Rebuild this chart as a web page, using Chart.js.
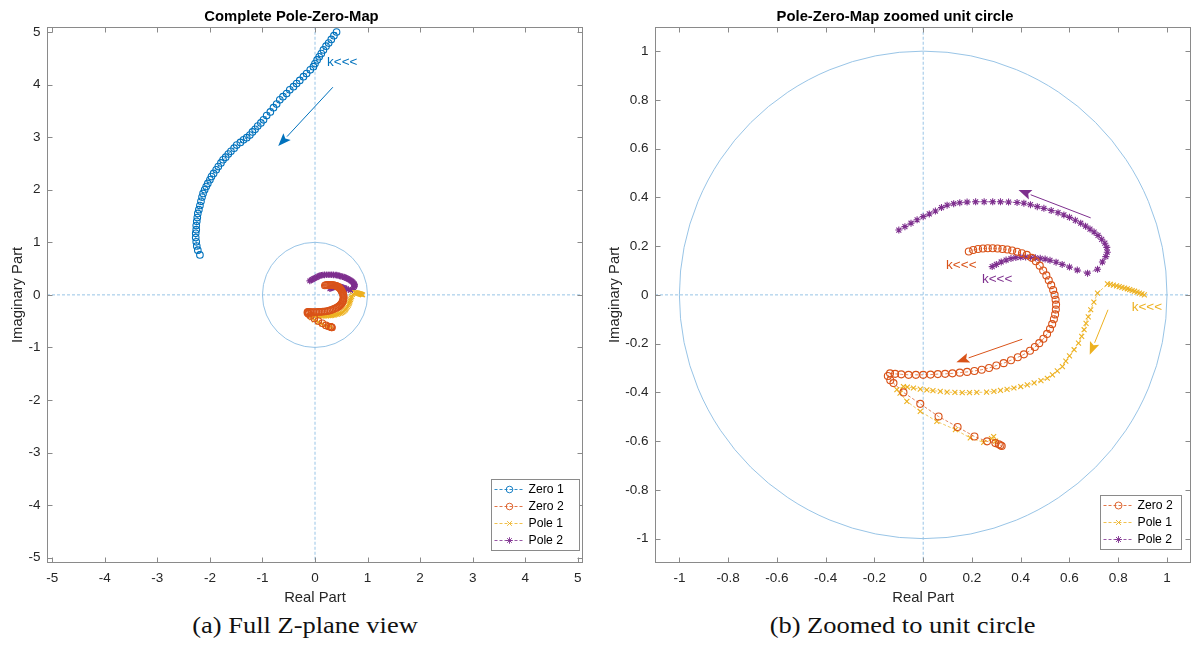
<!DOCTYPE html>
<html>
<head>
<meta charset="utf-8">
<script src="https://cdn.jsdelivr.net/npm/chart.js@4.4.1/dist/chart.umd.min.js"></script>
<style>
  body { margin: 0; background: #fff; width: 1196px; height: 655px; overflow: hidden; position: relative; }
  canvas { position: absolute; top: 0; }
  #full { left: 0; }
  #unit { left: 598px; }
  .cap { position: absolute; top: 613px; text-align: center; font-family: "Liberation Serif", "DejaVu Serif", serif; font-size: 23px; color: #111; white-space: nowrap; }
  .cap span { display: inline-block; transform: scaleX(1.15); }
</style>
</head>
<body>
<canvas id="full" width="598" height="608"></canvas>
<canvas id="unit" width="598" height="608"></canvas>
<div class="cap" style="left:0;width:610px;"><span>(a) Full Z-plane view</span></div>
<div class="cap" style="left:596px;width:614px;"><span>(b) Zoomed to unit circle</span></div>
<script>
const BLUE = '#0072BD', ORANGE = '#D95319', YELLOW = '#EDB120', PURPLE = '#7E2F8E';
const REF = '#8cbde3';
const AXIS = '#8a8a8a';

// tick positions
const fullTicks = [-5, -4, -3, -2, -1, 0, 1, 2, 3, 4, 5];
const unitTicks = [-1, -0.8, -0.6, -0.4, -0.2, 0, 0.2, 0.4, 0.6, 0.8, 1];

// root locus traces [re, im]
const zero1 = [
  [0.41, 5.0], [0.36, 4.93], [0.31, 4.86], [0.26, 4.79], [0.21, 4.73], [0.16, 4.66],
  [0.12, 4.59], [0.08, 4.53], [0.04, 4.47], [0.0, 4.40], [-0.03, 4.34],
  [-0.09, 4.28], [-0.16, 4.21], [-0.22, 4.15], [-0.29, 4.08], [-0.35, 4.02],
  [-0.41, 3.96], [-0.48, 3.90], [-0.54, 3.83], [-0.61, 3.77], [-0.67, 3.71],
  [-0.73, 3.63], [-0.79, 3.56], [-0.85, 3.48], [-0.92, 3.41], [-0.98, 3.33],
  [-1.03, 3.27], [-1.09, 3.21], [-1.14, 3.15], [-1.19, 3.10], [-1.24, 3.04],
  [-1.30, 2.99], [-1.36, 2.95], [-1.42, 2.90], [-1.49, 2.85],
  [-1.54, 2.79], [-1.60, 2.73], [-1.65, 2.68], [-1.70, 2.62], [-1.75, 2.57],
  [-1.79, 2.51], [-1.84, 2.44], [-1.88, 2.38], [-1.93, 2.31], [-1.97, 2.25],
  [-2.00, 2.19], [-2.04, 2.12], [-2.07, 2.06], [-2.10, 2.00], [-2.13, 1.93],
  [-2.15, 1.86], [-2.17, 1.78], [-2.19, 1.70], [-2.21, 1.62], [-2.23, 1.55],
  [-2.24, 1.47], [-2.25, 1.40], [-2.26, 1.32], [-2.26, 1.24], [-2.27, 1.17],
  [-2.27, 1.09], [-2.26, 1.01], [-2.25, 0.93], [-2.23, 0.85], [-2.19, 0.76]
];
const zero2 = [
  [0.187, 0.178], [0.205, 0.184], [0.225, 0.188], [0.245, 0.190], [0.265, 0.191], [0.285, 0.191],
  [0.305, 0.190], [0.325, 0.188], [0.345, 0.186], [0.365, 0.182], [0.385, 0.177], [0.405, 0.171],
  [0.425, 0.164], [0.445, 0.152], [0.462, 0.138], [0.478, 0.120], [0.492, 0.100], [0.505, 0.080],
  [0.515, 0.060], [0.525, 0.040], [0.533, 0.020], [0.539, 0.0], [0.543, -0.020], [0.545, -0.040],
  [0.544, -0.060], [0.541, -0.080], [0.536, -0.100], [0.529, -0.120], [0.520, -0.140], [0.508, -0.160],
  [0.493, -0.180], [0.476, -0.198], [0.458, -0.214], [0.438, -0.229], [0.413, -0.244], [0.388, -0.256],
  [0.360, -0.268], [0.330, -0.280], [0.300, -0.290], [0.270, -0.300], [0.240, -0.307], [0.210, -0.312],
  [0.180, -0.316], [0.150, -0.319], [0.120, -0.322], [0.090, -0.324], [0.060, -0.325], [0.030, -0.327],
  [0.0, -0.328], [-0.030, -0.328], [-0.060, -0.328], [-0.090, -0.326], [-0.115, -0.324], [-0.136, -0.322],
  [-0.145, -0.333], [-0.135, -0.350], [-0.122, -0.362], [-0.081, -0.400], [-0.012, -0.447], [0.063, -0.499],
  [0.141, -0.542], [0.210, -0.581], [0.262, -0.601], [0.296, -0.608], [0.310, -0.613], [0.317, -0.617],
  [0.322, -0.620]
];
const pole1 = [
  [0.907, 0.0], [0.897, 0.004], [0.887, 0.007], [0.877, 0.011], [0.867, 0.015], [0.857, 0.018],
  [0.847, 0.022], [0.837, 0.025], [0.826, 0.028], [0.815, 0.031], [0.804, 0.034], [0.793, 0.037],
  [0.780, 0.040], [0.768, 0.043], [0.756, 0.045], [0.715, 0.007], [0.700, -0.030], [0.687, -0.061],
  [0.677, -0.090], [0.668, -0.117], [0.660, -0.143], [0.650, -0.170], [0.637, -0.198], [0.619, -0.225],
  [0.600, -0.250], [0.585, -0.272], [0.571, -0.294], [0.550, -0.312], [0.530, -0.328], [0.509, -0.342],
  [0.483, -0.352], [0.455, -0.361], [0.427, -0.369], [0.400, -0.376], [0.372, -0.382], [0.344, -0.388],
  [0.317, -0.392], [0.290, -0.396], [0.260, -0.399], [0.220, -0.400], [0.190, -0.401], [0.160, -0.401],
  [0.130, -0.400], [0.098, -0.399], [0.070, -0.396], [0.040, -0.393], [0.015, -0.390], [-0.012, -0.387],
  [-0.040, -0.382], [-0.065, -0.378], [-0.081, -0.376], [-0.108, -0.389], [-0.095, -0.403], [-0.067, -0.437],
  [-0.012, -0.478], [0.056, -0.519], [0.132, -0.553], [0.193, -0.587], [0.248, -0.605], [0.280, -0.590],
  [0.289, -0.581], [0.297, -0.600]
];
const pole2 = [
  [0.283, 0.116], [0.300, 0.125], [0.320, 0.135], [0.340, 0.143], [0.360, 0.149], [0.380, 0.153],
  [0.400, 0.155], [0.420, 0.155], [0.440, 0.154], [0.460, 0.152], [0.480, 0.150], [0.500, 0.147],
  [0.520, 0.142], [0.545, 0.134], [0.570, 0.125], [0.600, 0.114], [0.632, 0.102], [0.674, 0.089],
  [0.715, 0.105], [0.735, 0.135], [0.749, 0.157], [0.755, 0.175], [0.753, 0.195], [0.745, 0.212],
  [0.732, 0.228], [0.717, 0.244], [0.701, 0.258], [0.684, 0.270], [0.666, 0.282], [0.646, 0.294],
  [0.624, 0.306], [0.600, 0.318], [0.577, 0.328], [0.553, 0.337], [0.525, 0.346], [0.495, 0.355],
  [0.468, 0.362], [0.440, 0.370], [0.413, 0.376], [0.385, 0.379], [0.350, 0.381], [0.317, 0.382],
  [0.285, 0.382], [0.250, 0.382], [0.215, 0.382], [0.180, 0.381], [0.150, 0.378], [0.125, 0.374],
  [0.098, 0.368], [0.075, 0.358], [0.050, 0.344], [0.025, 0.332], [0.0, 0.321], [-0.025, 0.308],
  [-0.050, 0.294], [-0.075, 0.280], [-0.100, 0.266]
];

// direction arrows and "k<<<" notes, in plane coordinates
const fullArrows = [{from: [0.34, 3.95], to: [-0.70, 2.83], color: BLUE}];
const fullNotes = [{at: [0.23, 4.43], color: BLUE}];
const unitArrows = [
  {from: [0.687, 0.316], to: [0.391, 0.430], color: PURPLE},
  {from: [0.406, -0.182], to: [0.136, -0.276], color: ORANGE},
  {from: [0.758, -0.061], to: [0.683, -0.246], color: YELLOW}
];
const unitNotes = [
  {at: [0.094, 0.123], color: ORANGE},
  {at: [0.241, 0.066], color: PURPLE},
  {at: [0.855, -0.049], color: YELLOW}
];

const pts = arr => arr.map(([x, y]) => ({x, y}));

function series(label, data, color, style, radius) {
  return {
    label, data: pts(data), showLine: true,
    borderColor: color, backgroundColor: color, borderWidth: 0.7, borderDash: [3, 2],
    pointStyle: style, pointRadius: radius, pointHoverRadius: radius,
    pointBorderColor: color, pointBackgroundColor: 'rgba(0,0,0,0)', pointBorderWidth: 1.1
  };
}

function drawMarker(ctx, style, radius, x, y) {
  if (Chart.helpers && Chart.helpers.drawPoint) {
    Chart.helpers.drawPoint(ctx, {pointStyle: style, radius, rotation: 0, borderWidth: 0.9}, x, y);
  }
}

function drawArrow(ctx, x1, y1, x2, y2, color) {
  const ang = Math.atan2(y2 - y1, x2 - x1), L = 13, W = 5;
  const bx = x2 - L * Math.cos(ang), by = y2 - L * Math.sin(ang);
  ctx.strokeStyle = color; ctx.fillStyle = color; ctx.lineWidth = 1; ctx.setLineDash([]);
  ctx.beginPath(); ctx.moveTo(x1, y1); ctx.lineTo(bx, by); ctx.stroke();
  ctx.beginPath();
  ctx.moveTo(x2, y2);
  ctx.lineTo(bx + W * Math.sin(ang), by - W * Math.cos(ang));
  ctx.lineTo(x2 - 0.8 * L * Math.cos(ang), y2 - 0.8 * L * Math.sin(ang));
  ctx.lineTo(bx - W * Math.sin(ang), by + W * Math.cos(ang));
  ctx.closePath(); ctx.fill();
}

// MATLAB-like axes: reference lines, unit circle, box with inward ticks, notes, legend
const pzAxes = {
  id: 'pzAxes',
  beforeDatasetsDraw(chart) {
    const {ctx, chartArea: a, scales: {x, y}} = chart;
    const x0 = x.getPixelForValue(0), y0 = y.getPixelForValue(0);
    ctx.save();
    ctx.beginPath(); ctx.rect(a.left, a.top, a.width, a.height); ctx.clip();
    ctx.strokeStyle = REF; ctx.lineWidth = 0.9;
    ctx.setLineDash([3, 2]);
    ctx.beginPath();
    ctx.moveTo(x0, a.top); ctx.lineTo(x0, a.bottom);
    ctx.moveTo(a.left, y0); ctx.lineTo(a.right, y0);
    ctx.stroke();
    ctx.setLineDash([]);
    const rx = x.getPixelForValue(1) - x0, ry = y0 - y.getPixelForValue(1);
    ctx.beginPath(); ctx.ellipse(x0, y0, rx, ry, 0, 0, Math.PI * 2); ctx.stroke();
    ctx.restore();
  },
  afterDatasetsDraw(chart, args, opts) {
    const {ctx, scales: {x, y}} = chart;
    ctx.save();
    (opts.arrows || []).forEach(ar => {
      drawArrow(ctx, x.getPixelForValue(ar.from[0]), y.getPixelForValue(ar.from[1]),
        x.getPixelForValue(ar.to[0]), y.getPixelForValue(ar.to[1]), ar.color);
    });
    ctx.font = '13.5px Arial';
    ctx.textAlign = 'left'; ctx.textBaseline = 'middle';
    (opts.notes || []).forEach(n => {
      ctx.fillStyle = n.color;
      ctx.fillText('k<<<', x.getPixelForValue(n.at[0]), y.getPixelForValue(n.at[1]));
    });
    ctx.restore();
  },
  afterDraw(chart, args, opts) {
    const {ctx, chartArea: a, scales: {x, y}} = chart;
    ctx.save();
    ctx.strokeStyle = AXIS; ctx.lineWidth = 1; ctx.setLineDash([]);
    const L = Math.round(a.left) + 0.5, R = Math.round(a.right) - 0.5;
    const T = Math.round(a.top) + 0.5, B = Math.round(a.bottom) - 0.5;
    ctx.strokeRect(L, T, R - L, B - T);
    ctx.beginPath();
    x.ticks.forEach(t => {
      const p = Math.round(x.getPixelForValue(t.value)) + 0.5;
      ctx.moveTo(p, B); ctx.lineTo(p, B - 5);
      ctx.moveTo(p, T); ctx.lineTo(p, T + 5);
    });
    y.ticks.forEach(t => {
      const p = Math.round(y.getPixelForValue(t.value)) + 0.5;
      ctx.moveTo(L, p); ctx.lineTo(L + 5, p);
      ctx.moveTo(R, p); ctx.lineTo(R - 5, p);
    });
    ctx.stroke();

    // legend box in the lower right corner
    const lg = opts.legend, sets = chart.data.datasets.filter(d => d.label);
    const rowH = 17, h = sets.length * rowH + 3;
    const right = Math.round(a.right - lg.right) + 0.5, bottom = Math.round(a.bottom - lg.bottom) + 0.5;
    const left = right - lg.width, top = bottom - h;
    ctx.fillStyle = '#fff';
    ctx.fillRect(left, top, lg.width, h);
    ctx.strokeStyle = AXIS;
    ctx.strokeRect(left, top, lg.width, h);
    ctx.font = '12.2px Arial';
    ctx.textAlign = 'left'; ctx.textBaseline = 'middle';
    sets.forEach((d, i) => {
      const cy = top + 1.5 + rowH * (i + 0.5);
      ctx.strokeStyle = d.borderColor; ctx.lineWidth = 0.8; ctx.setLineDash([3, 2]);
      ctx.beginPath(); ctx.moveTo(left + 3, cy); ctx.lineTo(left + 32, cy); ctx.stroke();
      ctx.setLineDash([]);
      ctx.fillStyle = 'rgba(0,0,0,0)'; ctx.lineWidth = 0.9;
      drawMarker(ctx, d.pointStyle, d.pointRadius, left + 18, cy);
      ctx.fillStyle = '#000';
      ctx.fillText(d.label, left + 37, cy + 0.5);
    });
    ctx.restore();
  }
};

function axis(ticks, lim, title, isY, size, titlePad) {
  return {
    type: 'linear', min: -lim, max: lim,
    afterBuildTicks: s => { s.ticks = ticks.map(v => ({value: v})); },
    afterFit: s => { if (isY) s.width = size; else s.height = size; },
    grid: {display: false, drawTicks: false},
    border: {display: false},
    ticks: {
      autoSkip: false, maxRotation: 0, padding: isY ? 6.5 : 7, color: '#262626',
      font: {family: 'Arial', size: 13.5}, callback: v => String(v)
    },
    title: {display: true, text: title, color: '#262626', font: {family: 'Arial', size: 14.8}, padding: titlePad}
  };
}

function makeChart(id, cfg) {
  return new Chart(document.getElementById(id), {
    type: 'scatter',
    data: {datasets: cfg.datasets},
    options: {
      responsive: false, animation: false, devicePixelRatio: 1, events: [],
      layout: {padding: {left: 0, right: cfg.padRight, top: 0, bottom: 0}},
      plugins: {
        legend: {display: false},
        tooltip: {enabled: false},
        title: {
          display: true, text: cfg.title, color: '#000',
          font: {family: 'Arial', size: 14.8, weight: 'bold'}, padding: {top: 8, bottom: 1}
        },
        pzAxes: {arrows: cfg.arrows, notes: cfg.notes, legend: cfg.legend}
      },
      scales: {
        x: axis(cfg.ticks, cfg.lim, 'Real Part', false, 45, {top: 0, bottom: 1}),
        y: axis(cfg.ticks, cfg.lim, 'Imaginary Part', true, cfg.yWidth, {top: cfg.yTitlePad, bottom: 0})
      }
    },
    plugins: [pzAxes]
  });
}

makeChart('full', {
  title: 'Complete Pole-Zero-Map',
  ticks: fullTicks, lim: 5.1, yWidth: 47, padRight: 15, yTitlePad: 9,
  arrows: fullArrows, notes: fullNotes,
  legend: {right: 4, bottom: 13, width: 88},
  datasets: [
    series('Zero 1', zero1, BLUE, 'circle', 3.3),
    series('Zero 2', zero2, ORANGE, 'circle', 3.3),
    series('Pole 1', pole1, YELLOW, 'crossRot', 3.3),
    series('Pole 2', pole2, PURPLE, 'star', 3.3)
  ]
});

makeChart('unit', {
  title: 'Pole-Zero-Map zoomed unit circle',
  ticks: unitTicks, lim: 1.1, yWidth: 57, padRight: 4, yTitlePad: 8,
  arrows: unitArrows, notes: unitNotes,
  legend: {right: 10, bottom: 14, width: 81},
  datasets: [
    series('Zero 2', zero2, ORANGE, 'circle', 3.5),
    series('Pole 1', pole1, YELLOW, 'crossRot', 3.5),
    series('Pole 2', pole2, PURPLE, 'star', 3.5)
  ]
});
</script>
</body>
</html>
